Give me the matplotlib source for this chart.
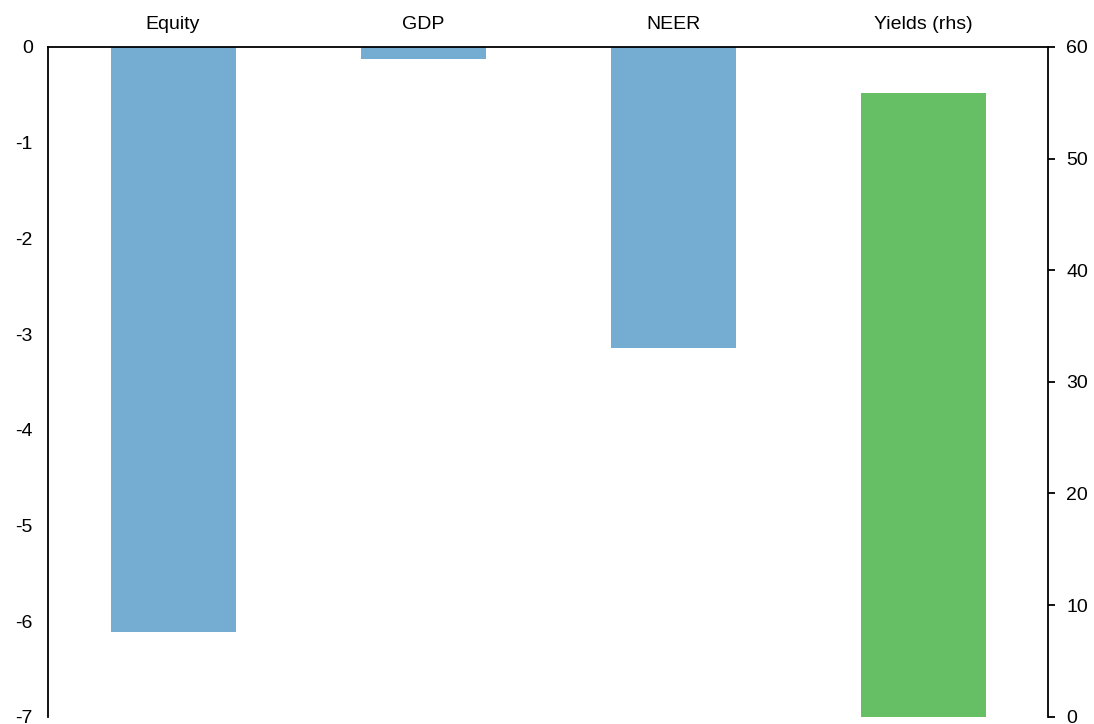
import numpy as np
import matplotlib.pyplot as plt

plt.rcParams['font.family'] = ['Liberation Sans', 'DejaVu Sans']
plt.rcParams['axes.unicode_minus'] = False

categories = ["Equity", "GDP", "NEER", "Yields (rhs)"]
lhs_values = [-6.12, -0.13, -3.15]
rhs_value = 55.9

fig = plt.figure(figsize=(10.94, 7.24), dpi=100)
ax = fig.add_axes([0.0439, 0.0101, 0.9142, 0.9250])
x = np.arange(len(categories))

ax.bar(x[:3], lhs_values, width=0.5, color='#75ADD2')
ax.set_xlim(-0.5, 3.5)
ax.set_ylim(-7, 0)
ax.set_yticks(np.arange(-7, 1, 1))
ax.xaxis.tick_top()
ax.set_xticks(x)
ax.set_xticklabels(categories, fontsize=14)
ax.tick_params(axis='x', length=0, pad=10)
ax.tick_params(axis='y', length=0, pad=11, labelsize=14)
ax.spines['bottom'].set_visible(False)
ax.spines['right'].set_visible(False)
for s in ['top', 'left']:
    ax.spines[s].set_linewidth(1.3)

ax2 = ax.twinx()
ax2.bar(x[3], rhs_value, width=0.5, color='#66BE65')
ax2.set_ylim(0, 60)
ax2.set_yticks(np.arange(0, 61, 10))
ax2.tick_params(axis='y', length=5, width=1.3, pad=8, labelsize=14)
for s in ['top', 'bottom', 'left']:
    ax2.spines[s].set_visible(False)
ax2.spines['right'].set_linewidth(1.3)

plt.savefig("out.png", dpi=100)
